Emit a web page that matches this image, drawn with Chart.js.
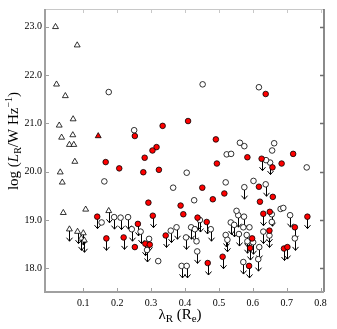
<!DOCTYPE html>
<html>
<head>
<meta charset="utf-8">
<script src="https://cdn.jsdelivr.net/npm/chart.js@4"></script>
<style>
  body { margin: 0; background: #fff; }
  canvas { display: block; }
</style>
</head>
<body>
<canvas id="chart" width="337" height="329"></canvas>
<script>
// open triangles
const triOpenX = [0.018, 0.082, 0.021, 0.047, 0.070, 0.029, 0.036, 0.069, 0.059, 0.072, 0.075, 0.032, 0.038, 0.041, 0.107];
const triOpenY = [23.00, 22.62, 21.81, 21.57, 21.09, 20.96, 20.71, 20.76, 20.56, 20.56, 20.21, 19.99, 19.78, 19.15, 19.22];
// open triangles, upper limits
const triLimX = [0.059, 0.083, 0.100, 0.094, 0.103, 0.175];
const triLimY = [18.81, 18.76, 18.73, 18.62, 18.58, 19.19];
// red triangle
const redTriX = [0.144];
const redTriY = [20.74];
// open circles
const circOpenX = [0.175, 0.250, 0.162, 0.452, 0.618, 0.562, 0.575, 0.663, 0.657, 0.523, 0.536, 0.639, 0.759, 0.405, 0.520, 0.602, 0.365, 0.427, 0.682, 0.690, 0.552, 0.154, 0.321, 0.656, 0.572, 0.590, 0.434];
const circOpenY = [21.65, 20.86, 19.80, 21.81, 21.75, 20.60, 20.53, 20.59, 20.44, 20.36, 20.37, 20.24, 20.09, 19.98, 19.78, 19.81, 19.67, 19.41, 19.23, 19.25, 19.19, 18.95, 18.15, 18.96, 18.85, 18.85, 18.56];
// open circles, upper limits
const circLimX = [0.651, 0.638, 0.575, 0.191, 0.210, 0.232, 0.243, 0.269, 0.294, 0.288, 0.375, 0.358, 0.418, 0.429, 0.444, 0.476, 0.535, 0.545, 0.520, 0.525, 0.559, 0.403, 0.436, 0.390, 0.405, 0.557, 0.574, 0.656, 0.710, 0.724, 0.631, 0.649, 0.582, 0.584, 0.601, 0.619, 0.616, 0.572];
const circLimY = [20.19, 19.74, 19.68, 19.06, 19.05, 19.06, 18.81, 18.76, 18.61, 18.38, 18.85, 18.78, 18.85, 18.81, 19.00, 18.81, 18.95, 18.90, 18.69, 18.59, 18.71, 18.64, 18.35, 18.05, 18.05, 19.10, 19.07, 19.12, 19.10, 18.62, 18.76, 18.68, 18.69, 18.56, 18.54, 18.44, 18.19, 18.13];
// red circles
const redX = [0.252, 0.334, 0.316, 0.304, 0.281, 0.166, 0.206, 0.277, 0.323, 0.409, 0.491, 0.638, 0.584, 0.658, 0.685, 0.719, 0.494, 0.618, 0.451, 0.516, 0.659, 0.482, 0.621, 0.292, 0.387, 0.395, 0.650, 0.252, 0.296, 0.598];
const redY = [20.74, 20.95, 20.51, 20.44, 20.29, 20.20, 20.07, 19.99, 20.04, 21.05, 20.67, 21.61, 20.30, 20.09, 20.17, 20.37, 20.17, 19.69, 19.67, 19.55, 19.48, 19.43, 19.38, 19.36, 19.30, 19.12, 19.17, 18.44, 18.49, 18.62];
// red circles, upper limits
const redLimX = [0.626, 0.141, 0.305, 0.168, 0.219, 0.261, 0.283, 0.343, 0.437, 0.464, 0.467, 0.511, 0.631, 0.761, 0.724, 0.649, 0.592, 0.589, 0.692, 0.702];
const redLimY = [20.27, 19.07, 19.09, 18.62, 18.64, 18.92, 18.51, 18.68, 19.05, 18.96, 18.11, 18.24, 19.13, 19.07, 18.85, 18.78, 18.42, 18.05, 18.41, 18.44];

const xMin = -0.013, xMax = 0.81;
const yMin = 17.51, yMax = 23.37;

const serif = "'Liberation Serif', 'DejaVu Serif', serif";

function pts(xs, ys) {
    return xs.map((x, i) => ({ x: x, y: ys[i] }));
}

function makeSet(xs, ys, shape, fill, limit) {
    return {
        data: pts(xs, ys),
        pointStyle: shape,
        pointRadius: shape === 'triangle' ? 3.4 : 2.8,
        pointBackgroundColor: fill,
        pointBorderColor: '#000',
        pointBorderWidth: 0.8,
        showLine: false,
        isLimit: limit
    };
}

// downward arrows under upper-limit points
const arrowPlugin = {
    id: 'arrows',
    beforeDatasetsDraw(chart) {
        const ctx = chart.ctx;
        ctx.save();
        ctx.strokeStyle = '#000';
        ctx.lineWidth = 1;
        chart.data.datasets.forEach((ds, i) => {
            if (!ds.isLimit) return;
            chart.getDatasetMeta(i).data.forEach(pt => {
                const x = Math.round(pt.x) + 0.5, y = pt.y;
                const tip = y + 12;
                ctx.beginPath();
                ctx.moveTo(x, y);
                ctx.lineTo(x, tip);
                ctx.moveTo(x - 3, tip - 3.5);
                ctx.lineTo(x, tip);
                ctx.lineTo(x + 3, tip - 3.5);
                ctx.stroke();
            });
        });
        ctx.restore();
    }
};

// box frame with inward ticks
const framePlugin = {
    id: 'frame',
    afterDraw(chart) {
        const ctx = chart.ctx;
        const a = chart.chartArea;
        const xs = chart.scales.x, ys = chart.scales.y;
        ctx.save();
        // top
        ctx.strokeStyle = '#c8c8c8';
        ctx.lineWidth = 1;
        ctx.beginPath();
        ctx.moveTo(a.left, a.top + 0.5);
        ctx.lineTo(a.right, a.top + 0.5);
        xs.ticks.forEach(t => {
            const px = Math.round(xs.getPixelForValue(t.value)) + 0.5;
            ctx.moveTo(px, a.top);
            ctx.lineTo(px, a.top + 4);
        });
        ctx.stroke();
        // right
        ctx.strokeStyle = '#6e6e6e';
        ctx.lineWidth = 1.6;
        ctx.beginPath();
        ctx.moveTo(a.right, a.top);
        ctx.lineTo(a.right, a.bottom);
        ys.ticks.forEach(t => {
            const py = Math.round(ys.getPixelForValue(t.value)) + 0.5;
            ctx.moveTo(a.right, py);
            ctx.lineTo(a.right - 4, py);
        });
        ctx.stroke();
        // left and bottom
        ctx.strokeStyle = '#a0a0a0';
        ctx.lineWidth = 2;
        ctx.beginPath();
        ctx.moveTo(a.left, a.top);
        ctx.lineTo(a.left, a.bottom);
        ctx.lineTo(a.right, a.bottom);
        ctx.stroke();
        ctx.lineWidth = 1;
        ctx.beginPath();
        ys.ticks.forEach(t => {
            const py = Math.round(ys.getPixelForValue(t.value)) + 0.5;
            ctx.moveTo(a.left, py);
            ctx.lineTo(a.left + 4, py);
        });
        xs.ticks.forEach(t => {
            const px = Math.round(xs.getPixelForValue(t.value)) + 0.5;
            ctx.moveTo(px, a.bottom);
            ctx.lineTo(px, a.bottom - 4);
        });
        ctx.stroke();
        ctx.restore();
    }
};

// axis titles with sub/superscripts
function drawPieces(ctx, pieces) {
    let total = 0;
    pieces.forEach(p => {
        ctx.font = p.font;
        p.w = ctx.measureText(p.t).width;
        total += p.w;
    });
    let x = -total / 2;
    pieces.forEach(p => {
        ctx.font = p.font;
        ctx.fillText(p.t, x, p.dy || 0);
        x += p.w;
    });
}

const titlePlugin = {
    id: 'titles',
    afterDraw(chart) {
        const ctx = chart.ctx;
        ctx.save();
        ctx.fillStyle = '#000';
        ctx.textBaseline = 'alphabetic';
        ctx.textAlign = 'left';
        const big = '15px ' + serif, small = '11px ' + serif;
        ctx.translate(180, 319);
        drawPieces(ctx, [
            { t: 'λ', font: big },
            { t: 'R', font: small, dy: 3 },
            { t: ' (R', font: big },
            { t: 'e', font: small, dy: 3 },
            { t: ')', font: big }
        ]);
        ctx.restore();

        ctx.save();
        ctx.fillStyle = '#000';
        ctx.textBaseline = 'alphabetic';
        ctx.textAlign = 'left';
        ctx.translate(18, 141);
        ctx.rotate(-Math.PI / 2);
        drawPieces(ctx, [
            { t: 'log (', font: '15px ' + serif },
            { t: 'L', font: 'italic 15px ' + serif },
            { t: 'R', font: '10px ' + serif, dy: 3 },
            { t: '/W Hz', font: '15px ' + serif },
            { t: '\u22121', font: '10px ' + serif, dy: -6 },
            { t: ')', font: '15px ' + serif }
        ]);
        ctx.restore();
    }
};

new Chart(document.getElementById('chart'), {
    type: 'scatter',
    data: {
        datasets: [
            makeSet(redTriX, redTriY, 'triangle', '#ff0000', false),
            makeSet(redX, redY, 'circle', '#ff0000', false),
            makeSet(redLimX, redLimY, 'circle', '#ff0000', true),
            makeSet(circOpenX, circOpenY, 'circle', '#ffffff', false),
            makeSet(circLimX, circLimY, 'circle', '#ffffff', true),
            makeSet(triOpenX, triOpenY, 'triangle', '#ffffff', false),
            makeSet(triLimX, triLimY, 'triangle', '#ffffff', true)
        ]
    },
    options: {
        responsive: false,
        animation: false,
        devicePixelRatio: 1,
        layout: { padding: { left: 0, top: 5, right: 13, bottom: 0 } },
        plugins: {
            legend: { display: false },
            tooltip: { enabled: false }
        },
        scales: {
            x: {
                type: 'linear',
                min: xMin,
                max: xMax,
                grid: { display: false, drawTicks: false },
                border: { display: false },
                afterFit: s => { s.height = 37; },
                afterBuildTicks: s => { s.ticks = s.ticks.filter(t => t.value > 0.05); },
                ticks: {
                    stepSize: 0.1,
                    includeBounds: false,
                    padding: 5,
                    color: '#000',
                    font: { family: serif, size: 10 },
                    maxRotation: 0,
                    callback: v => v.toFixed(1)
                }
            },
            y: {
                type: 'linear',
                min: yMin,
                max: yMax,
                grid: { display: false, drawTicks: false },
                border: { display: false },
                afterFit: s => { s.width = 45; },
                ticks: {
                    stepSize: 1,
                    includeBounds: false,
                    padding: 3,
                    color: '#000',
                    font: { family: serif, size: 10 },
                    callback: v => v.toFixed(1)
                }
            }
        }
    },
    plugins: [arrowPlugin, framePlugin, titlePlugin]
});
</script>
</body>
</html>
